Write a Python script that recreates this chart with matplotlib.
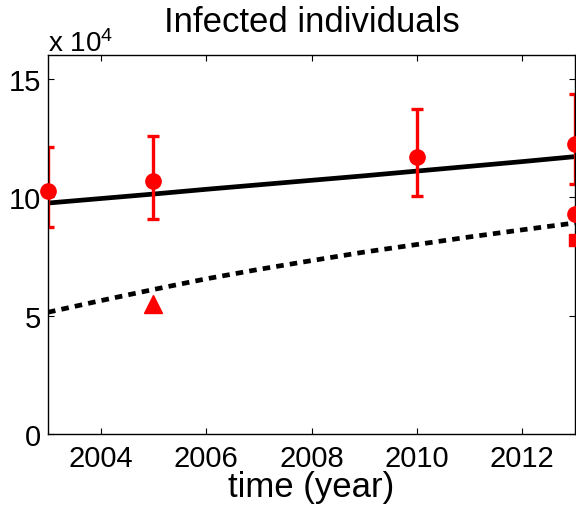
import matplotlib
matplotlib.use("Agg")
import matplotlib.pyplot as plt
import numpy as np

plt.rcParams["font.family"] = ["Liberation Sans", "DejaVu Sans"]
plt.rcParams["mathtext.default"] = "regular"

# Model curves (units of 10^4 individuals)
years_model = [2003, 2004, 2005, 2006, 2007, 2008, 2009, 2010, 2011, 2012, 2013]
total_model = [9.75, 9.94, 10.13, 10.33, 10.52, 10.71, 10.90, 11.10, 11.30, 11.50, 11.71]
diagnosed_model = [5.14, 5.63, 6.10, 6.55, 6.95, 7.32, 7.68, 8.00, 8.32, 8.62, 8.91]

# Estimates with uncertainty ranges
est_years = [2003, 2005, 2010, 2013]
est_values = [10.25, 10.69, 11.71, 12.25]
est_low = [8.72, 9.08, 10.04, 10.55]
est_high = [12.13, 12.60, 13.73, 14.36]

# Other reported figures
rep_circle_year = [2013]
rep_circle_value = [9.27]
rep_tri_year = [2005]
rep_tri_value = [5.5]
rep_sq_year = [2013]
rep_sq_value = [8.18]

xticks = [2004, 2006, 2008, 2010, 2012]
yticks = [0, 5, 10, 15]

fig = plt.figure(figsize=(5.76, 5.10), dpi=100)
ax = fig.add_axes([48 / 576, 75 / 510, 527 / 576, 379 / 510])

ax.plot(years_model, total_model, color="black", lw=3.4, solid_capstyle="butt")
ax.plot(years_model, diagnosed_model, color="black", lw=3.4, ls=(0, (1.6, 1.3)))

est = np.array(est_values)
yerr = [est - np.array(est_low), np.array(est_high) - est]
ax.errorbar(est_years, est_values, yerr=yerr, fmt="none", ecolor="red",
            elinewidth=2.4, capsize=4, capthick=2.4)
ax.plot(est_years, est_values, "o", color="red", ms=11, clip_on=False, zorder=5)
ax.plot(rep_circle_year, rep_circle_value, "o", color="red", ms=11, clip_on=False, zorder=5)
ax.plot(rep_tri_year, rep_tri_value, "^", color="red", ms=13, clip_on=False, zorder=5)
ax.plot(rep_sq_year, rep_sq_value, "s", color="red", ms=9, clip_on=False, zorder=5)

ax.set_xlim(2003, 2013)
ax.set_ylim(0, 16)
ax.set_xticks(xticks)
ax.set_yticks(yticks)
ax.tick_params(direction="in", length=4, width=0.8, labelsize=21,
               top=True, right=True)
ax.tick_params(axis="x", pad=7)
ax.tick_params(axis="y", pad=5)
for s in ax.spines.values():
    s.set_linewidth(1.0)

ax.set_title("Infected individuals", fontsize=25, pad=17)
ax.set_xlabel("time (year)", fontsize=25, va="baseline")
ax.xaxis.set_label_coords(0.5, -62 / 379)
ax.text(0, 1 + 4 / 379, r"x 10$^{4}$", transform=ax.transAxes, fontsize=20,
        ha="left", va="baseline")

fig.savefig("out.png", dpi=100)
